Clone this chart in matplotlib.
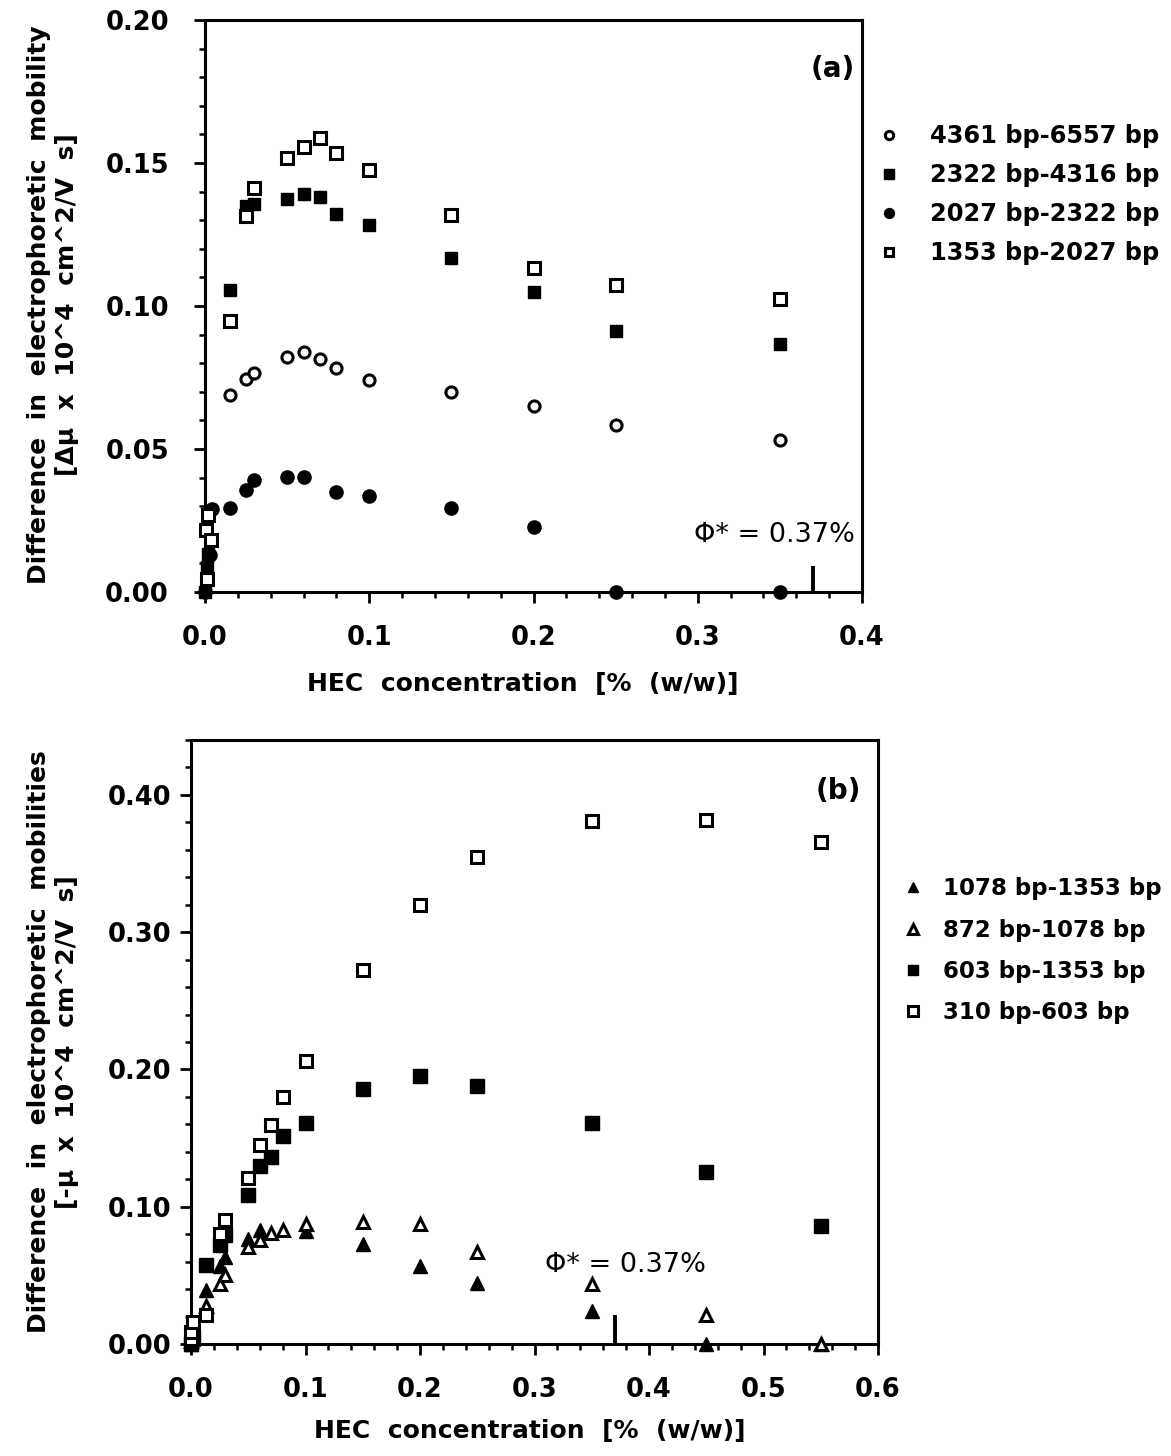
import matplotlib
matplotlib.use("Agg")
import matplotlib.pyplot as plt
from matplotlib.ticker import MultipleLocator, FormatStrFormatter

# ---------------- data: panel (a) ----------------
x_a_4361 = [0.015, 0.025, 0.03, 0.05, 0.06, 0.07, 0.08, 0.10, 0.15, 0.20, 0.25, 0.35]
y_a_4361 = [0.0688, 0.0746, 0.0764, 0.0822, 0.0839, 0.0814, 0.0783, 0.0740, 0.0698, 0.0649, 0.0583, 0.0530]

x_a_2322 = [0.0, 0.001, 0.002, 0.015, 0.025, 0.03, 0.05, 0.06, 0.07, 0.08, 0.10, 0.15, 0.20, 0.25, 0.35]
y_a_2322 = [0.0, 0.0087, 0.0134, 0.1055, 0.1349, 0.1358, 0.1373, 0.1390, 0.1381, 0.1323, 0.1282, 0.1167, 0.1048, 0.0912, 0.0866]

x_a_2027 = [0.0, 0.003, 0.004, 0.015, 0.025, 0.03, 0.05, 0.06, 0.08, 0.10, 0.15, 0.20, 0.25, 0.35]
y_a_2027 = [0.0, 0.0128, 0.0290, 0.0295, 0.0358, 0.0393, 0.0402, 0.0402, 0.0350, 0.0335, 0.0293, 0.0227, 0.0, 0.0]

x_a_1353 = [0.001, 0.0006, 0.002, 0.0037, 0.015, 0.025, 0.03, 0.05, 0.06, 0.07, 0.08, 0.10, 0.15, 0.20, 0.25, 0.35]
y_a_1353 = [0.0047, 0.0216, 0.0268, 0.0183, 0.0948, 0.1315, 0.1411, 0.1516, 0.1556, 0.1589, 0.1535, 0.1477, 0.1317, 0.1132, 0.1072, 0.1023]

labels_a = ["4361 bp-6557 bp", "2322 bp-4316 bp", "2027 bp-2322 bp", "1353 bp-2027 bp"]

# ---------------- data: panel (b) ----------------
x_b_1078 = [0.0, 0.002, 0.013, 0.025, 0.03, 0.05, 0.06, 0.10, 0.15, 0.20, 0.25, 0.35, 0.45, 0.55]
y_b_1078 = [0.0, 0.004, 0.039, 0.057, 0.0634, 0.0768, 0.0828, 0.0823, 0.0731, 0.0566, 0.0444, 0.024, 0.0, 0.0]

x_b_872 = [0.0, 0.013, 0.025, 0.03, 0.05, 0.06, 0.07, 0.08, 0.10, 0.15, 0.20, 0.25, 0.35, 0.45, 0.55]
y_b_872 = [0.002, 0.028, 0.044, 0.050, 0.0707, 0.076, 0.0808, 0.0828, 0.0877, 0.0889, 0.0872, 0.067, 0.044, 0.0208, 0.0]

x_b_603 = [0.0, 0.002, 0.013, 0.025, 0.03, 0.05, 0.06, 0.07, 0.08, 0.10, 0.15, 0.20, 0.25, 0.35, 0.45, 0.55]
y_b_603 = [0.0, 0.005, 0.0573, 0.0719, 0.0797, 0.1089, 0.1296, 0.1364, 0.1517, 0.1612, 0.1855, 0.1955, 0.188, 0.161, 0.125, 0.0858]

x_b_310 = [0.0, 0.0, 0.002, 0.013, 0.025, 0.03, 0.05, 0.06, 0.07, 0.08, 0.10, 0.15, 0.20, 0.25, 0.35, 0.45, 0.55]
y_b_310 = [0.004, 0.009, 0.0159, 0.0208, 0.080, 0.0906, 0.1206, 0.1449, 0.1595, 0.180, 0.2064, 0.2726, 0.320, 0.355, 0.3807, 0.382, 0.3655]

labels_b = ["1078 bp-1353 bp", "872 bp-1078 bp", "603 bp-1353 bp", "310 bp-603 bp"]

phi_star = 0.37
phi_text = "Φ* = 0.37%"

# ---------------- figure ----------------
W, H = 1171, 1456
fig = plt.figure(figsize=(W / 100, H / 100), dpi=100)
fig.patch.set_facecolor("white")

BOLD = dict(family="DejaVu Sans", weight="bold")


def px_axes(l, t, r, b):
    return fig.add_axes([l / W, 1 - b / H, (r - l) / W, (b - t) / H])


def style_axes(ax, xmaj, xmin, ymaj, ymin, xfmt, yfmt, xpad, ypad):
    for s in ax.spines.values():
        s.set_linewidth(2.2)
    ax.xaxis.set_major_locator(MultipleLocator(xmaj))
    ax.xaxis.set_minor_locator(MultipleLocator(xmin))
    ax.yaxis.set_major_locator(MultipleLocator(ymaj))
    ax.yaxis.set_minor_locator(MultipleLocator(ymin))
    ax.xaxis.set_major_formatter(FormatStrFormatter(xfmt))
    ax.yaxis.set_major_formatter(FormatStrFormatter(yfmt))
    ax.tick_params(which="major", direction="out", length=8, width=2,
                   top=False, right=False)
    ax.tick_params(which="minor", direction="out", length=4, width=1.8,
                   top=False, right=False)
    ax.tick_params(axis="x", which="major", pad=xpad)
    ax.tick_params(axis="y", which="major", pad=ypad)
    for lab in ax.get_xticklabels() + ax.get_yticklabels():
        lab.set_fontfamily("DejaVu Sans")
        lab.set_fontweight("bold")
        lab.set_fontsize(18.5)


# ---------------- panel (a) ----------------
axa = px_axes(205, 20, 862, 592)
axa.set_xlim(0, 0.4)
axa.set_ylim(0, 0.2)
style_axes(axa, 0.1, 0.02, 0.05, 0.01, "%.1f", "%.2f", 16, 18)

ha = []
ha.append(axa.plot(x_a_4361, y_a_4361, ls="none", marker="o", ms=8, mfc="white",
                   mec="black", mew=2.2, clip_on=False, zorder=3)[0])
ha.append(axa.plot(x_a_2322, y_a_2322, ls="none", marker="s", ms=9, mfc="black",
                   mec="black", mew=1, clip_on=False, zorder=3)[0])
ha.append(axa.plot(x_a_2027, y_a_2027, ls="none", marker="o", ms=9.5, mfc="black",
                   mec="black", mew=1, clip_on=False, zorder=3)[0])
ha.append(axa.plot(x_a_1353, y_a_1353, ls="none", marker="s", ms=8, mfc="white",
                   mec="black", mew=2.2, clip_on=False, zorder=3)[0])

axa.plot([phi_star, phi_star], [0, 0.009], color="black", lw=2.8, solid_capstyle="butt")
axa.text(0.2975, 0.0199, phi_text, fontsize=19.5, family="DejaVu Sans",
         ha="left", va="center")
axa.text(0.3957, 0.183, "(a)", fontsize=20, ha="right", va="center", **BOLD)

leg_a = axa.legend(ha, labels_a, loc="upper left", bbox_to_anchor=(865 / W, 1 - 112 / H),
                   bbox_transform=fig.transFigure, frameon=False, borderpad=0,
                   handlelength=1.0, handletextpad=1.19, labelspacing=0.62,
                   markerscale=0.75,
                   prop=dict(family="DejaVu Sans", weight="bold", size=17.4))

fig.text(53 / W, 1 - 305 / H,
         "Difference  in  electrophoretic  mobility\n[Δμ  x  10^4  cm^2/V  s]",
         rotation=90, ha="center", va="center", multialignment="center",
         fontsize=18, **BOLD)
fig.text(523 / W, 1 - 684 / H, "HEC  concentration  [%  (w/w)]",
         ha="center", va="center", fontsize=18, **BOLD)

# ---------------- panel (b) ----------------
axb = px_axes(191, 740, 878, 1344)
axb.set_xlim(0, 0.6)
axb.set_ylim(0, 0.44)
style_axes(axb, 0.1, 0.02, 0.1, 0.02, "%.1f", "%.2f", 16, 6)

hb = []
hb.append(axb.plot(x_b_1078, y_b_1078, ls="none", marker="^", ms=10, mfc="black",
                   mec="black", mew=1, clip_on=False, zorder=3)[0])
hb.append(axb.plot(x_b_872, y_b_872, ls="none", marker="^", ms=9, mfc="white",
                   mec="black", mew=2.2, clip_on=False, zorder=3)[0])
hb.append(axb.plot(x_b_603, y_b_603, ls="none", marker="s", ms=10, mfc="black",
                   mec="black", mew=1, clip_on=False, zorder=3)[0])
hb.append(axb.plot(x_b_310, y_b_310, ls="none", marker="s", ms=9, mfc="white",
                   mec="black", mew=2.2, clip_on=False, zorder=3)[0])

axb.plot([phi_star, phi_star], [0, 0.021], color="black", lw=2.8, solid_capstyle="butt")
axb.text(0.309, 0.0573, phi_text, fontsize=19.5, family="DejaVu Sans",
         ha="left", va="center")
axb.text(0.585, 0.403, "(b)", fontsize=20, ha="right", va="center", **BOLD)

leg_b = axb.legend(hb, labels_b, loc="upper left", bbox_to_anchor=(890 / W, 1 - 866 / H),
                   bbox_transform=fig.transFigure, frameon=False, borderpad=0,
                   handlelength=1.0, handletextpad=0.8, labelspacing=0.8,
                   markerscale=0.75,
                   prop=dict(family="DejaVu Sans", weight="bold", size=16.5))

fig.text(53 / W, 1 - 1042 / H,
         "Difference  in  electrophoretic  mobilities\n[-μ  x  10^4  cm^2/V  s]",
         rotation=90, ha="center", va="center", multialignment="center",
         fontsize=18, **BOLD)
fig.text(530 / W, 1 - 1431 / H, "HEC  concentration  [%  (w/w)]",
         ha="center", va="center", fontsize=18, **BOLD)

fig.savefig("out.png", dpi=100, facecolor="white")
